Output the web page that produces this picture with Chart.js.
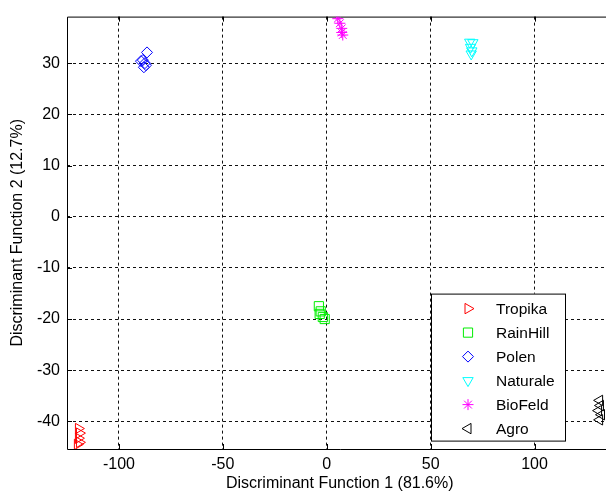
<!DOCTYPE html>
<html><head><meta charset="utf-8">
<script src="https://cdn.jsdelivr.net/npm/chart.js@4.4.0/dist/chart.umd.min.js"></script>
<style>html,body{margin:0;padding:0;background:#fff;overflow:hidden;width:606px;height:493px}</style>
</head><body>
<canvas id="c" width="620" height="493"></canvas>
<script>
const seriesNames = ["Tropika","RainHill","Polen","Naturale","BioFeld","Agro"];
const tropikaX = [-119.5,-119,-119.5,-119,-120];
const tropikaY = [-41.4,-42.3,-43.3,-44.1,-44.5];
const rainhillX = [-3.8,-2.9,-1.9,-3.4,-1];
const rainhillY = [-17.5,-18.5,-19.6,-19,-20];
const polenX = [-86.5,-89.4,-87.5,-87,-88,-88.5];
const polenY = [32.1,30.4,30,29.6,29.2,30.6];
const naturaleX = [68.8,70.3,69.2,69.8,69.5];
const naturaleY = [34.1,34.0,33.1,32.4,31.8];
const biofeldX = [5.3,6.3,7.2,7.2,7.7];
const biofeldY = [38.7,37.8,36.8,36.0,35.5];
const agroX = [131.3,131.7,130.8,132.2,131.3];
const agroY = [-35.9,-36.9,-37.9,-38.7,-39.7];
const xTicks = [-100,-50,0,50,100];
const yTicks = [-40,-30,-20,-10,0,10,20,30];

const pts = (xs, ys) => xs.map((x,i)=>({x, y: ys[i]}));
const styles = [
  {color:"#ff0000", style:"triangle", rot:90, r:6},
  {color:"#00ee00", style:"rect", rot:0, r:6.5},
  {color:"#0000ff", style:"rectRot", rot:0, r:5.5},
  {color:"#00ffff", style:"triangle", rot:180, r:6},
  {color:"#ff00ff", style:"star", rot:0, r:5.5},
  {color:"#000000", style:"triangle", rot:-90, r:6}
];
const allData = [pts(tropikaX,tropikaY),pts(rainhillX,rainhillY),pts(polenX,polenY),pts(naturaleX,naturaleY),pts(biofeldX,biofeldY),pts(agroX,agroY)];
const datasets = seriesNames.map((n,i)=>({
  label:n, data:allData[i], showLine:false,
  borderColor:styles[i].color, backgroundColor:'rgba(0,0,0,0)',
  pointStyle:styles[i].style, rotation:styles[i].rot, pointRadius:styles[i].r,
  pointBorderWidth:1, pointHoverRadius:styles[i].r
}));

const frame = {
  id:'frame',
  beforeDatasetsDraw(chart){
    const {ctx, chartArea:a, scales:{x,y}} = chart;
    ctx.save();
    ctx.strokeStyle='#000'; ctx.lineWidth=1;
    ctx.beginPath();
    ctx.rect(a.left+0.5, a.top+0.5, a.right-a.left, a.bottom-a.top);
    ctx.stroke();
    ctx.beginPath();
    xTicks.forEach(v=>{const px=Math.round(x.getPixelForValue(v))+0.5;
      ctx.moveTo(px,a.bottom); ctx.lineTo(px,a.bottom-5);
      ctx.moveTo(px,a.top); ctx.lineTo(px,a.top+5);});
    yTicks.forEach(v=>{const py=Math.round(y.getPixelForValue(v))+0.5;
      ctx.moveTo(a.left,py); ctx.lineTo(a.left+5,py);
      ctx.moveTo(a.right,py); ctx.lineTo(a.right-5,py);});
    ctx.stroke();
    ctx.restore();
  },
  afterDraw(chart){
    const {ctx, chartArea:a} = chart;
    const L = a.left + 364, T = a.top + 277, W = 134, H = 147;
    ctx.save();
    ctx.fillStyle='#fff'; ctx.fillRect(L,T,W,H);
    ctx.strokeStyle='#000'; ctx.lineWidth=1;
    ctx.strokeRect(L+0.5,T+0.5,W,H);
    ctx.textBaseline='middle'; ctx.textAlign='left';
    chart.data.datasets.forEach((ds,i)=>{
      const cy = T + 15 + i*24;
      const cx = L + 37;
      ctx.strokeStyle = ds.borderColor; ctx.lineWidth=1;
      ctx.fillStyle='rgba(0,0,0,0)';
      Chart.helpers.drawPoint(ctx,{pointStyle:ds.pointStyle, rotation:ds.rotation, radius:ds.pointRadius, borderWidth:1}, cx, cy);
      ctx.fillStyle='#000';
      ctx.font='15.5px Arial, "Liberation Sans", sans-serif';
      ctx.fillText(ds.label, L+65, cy+1);
    });
    ctx.restore();
  }
};

const font = {family:'Arial, "Liberation Sans", sans-serif', size:16};
new Chart(document.getElementById('c'), {
  type:'scatter',
  data:{datasets},
  plugins:[frame],
  options:{
    responsive:false, animation:false,
    layout:{padding:{left:6,top:16,right:7,bottom:0}},
    plugins:{legend:{display:false}, tooltip:{enabled:false}},
    scales:{
      x:{type:'linear', min:-125, max:137.5,
        afterBuildTicks:s=>{s.ticks=xTicks.map(v=>({value:v}));},
        afterFit:s=>{s.height=44;},
        grid:{color:'#111', lineWidth:1, drawTicks:false},
        border:{display:false, dash:[3,3]},
        ticks:{font, color:'#000', padding:6, maxRotation:0},
        title:{display:true, text:'Discriminant Function 1 (81.6%)', font, color:'#000', padding:{top:0,bottom:0}}
      },
      y:{type:'linear', min:-45.4, max:39.1,
        afterBuildTicks:s=>{s.ticks=yTicks.map(v=>({value:v}));},
        afterFit:s=>{s.width=61;},
        grid:{color:'#111', lineWidth:1, drawTicks:false},
        border:{display:false, dash:[3,3]},
        ticks:{font, color:'#000', padding:7},
        title:{display:true, text:'Discriminant Function 2 (12.7%)', font, color:'#000', padding:{top:2,bottom:0}}
      }
    }
  }
});
</script>
</body></html>
